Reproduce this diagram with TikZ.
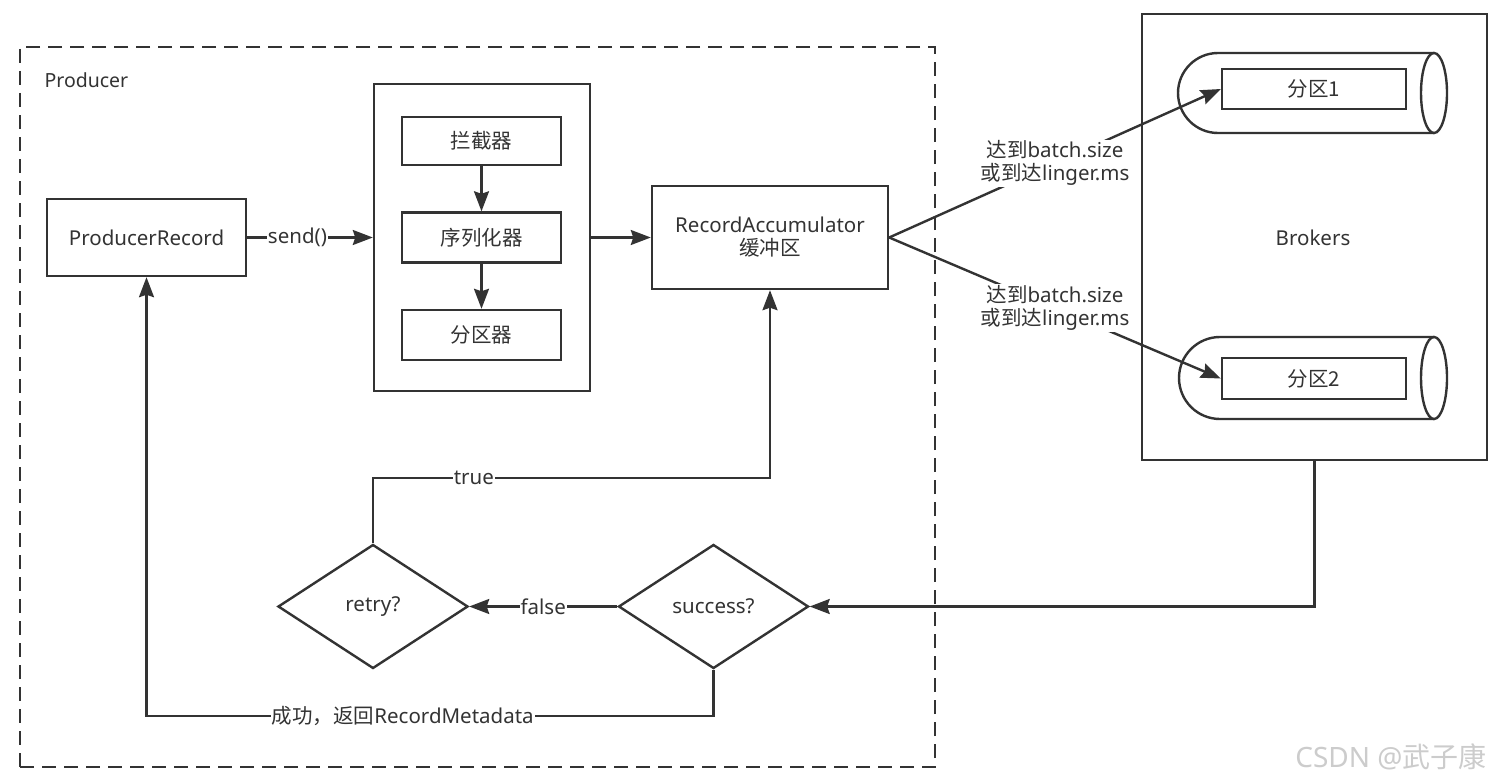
\documentclass[tikz,border=0pt]{standalone}
\usepackage{fontspec}
\setmainfont{Noto Sans}
\newfontfamily\cjk{Noto Sans CJK SC}
\usetikzlibrary{arrows.meta,shapes.geometric}
\definecolor{ln}{HTML}{333333}
\definecolor{txt}{HTML}{333333}
\begin{document}
\begin{tikzpicture}[x=1pt,y=-1pt,line width=2.4pt,
 every node/.style={text=txt,font=\fontsize{20.5}{27}\selectfont},
 box/.style={draw=ln,rectangle,inner sep=0pt},
 dec/.style={draw=ln,diamond,aspect=1.53,minimum width=190pt,minimum height=124pt,inner sep=0pt},
 arr/.style={draw=ln,-{Stealth[length=20pt,width=15pt,inset=2.5pt]}},
 lbl/.style={fill=white,inner sep=1pt},
 ln/.style={draw=ln}]
\useasboundingbox (0,0) rectangle (1500,784);
\fill[white] (0,0) rectangle (1500,784);

% Producer frame
\node[box,minimum width=915pt,minimum height=720pt,dash pattern=on 14pt off 8pt] (prod) at (477.5,407) {};
\node[anchor=west,font=\fontsize{19.5}{24}\selectfont] (prodlbl) at (40,80) {Producer};

\node[box,minimum width=199pt,minimum height=77pt] (rec) at (146.5,237.5) {ProducerRecord};
\node[box,minimum width=216pt,minimum height=307pt] (chain) at (482,237.5) {};
\node[box,minimum width=159pt,minimum height=48pt] (inter) at (481.5,141) {\cjk 拦截器};
\node[box,minimum width=159pt,minimum height=50pt] (ser) at (481.5,237.5) {\cjk 序列化器};
\node[box,minimum width=159pt,minimum height=50pt] (part) at (481.5,335) {\cjk 分区器};
\node[box,minimum width=236pt,minimum height=103pt,align=center] (acc) at (770,237.5) {RecordAccumulator\\[-4pt]{\cjk 缓冲区}};

% Brokers
\node[box,minimum width=345pt,minimum height=446pt] (brk) at (1314.5,237) {};
\node (brklbl) at (1313,238) {Brokers};
\draw[ln] (1434,53) -- (1218,53) arc[start angle=270,end angle=90,radius=40] -- (1434,133);
\draw[ln] (1434,93) ellipse[x radius=13,y radius=40];
\node[box,minimum width=184pt,minimum height=40pt] (p1) at (1314,89) {\cjk 分区1};
\draw[ln] (1434,337) -- (1220,337) arc[start angle=270,end angle=90,radius=41] -- (1434,419);
\draw[ln] (1434,378) ellipse[x radius=13,y radius=41];
\node[box,minimum width=184pt,minimum height=41pt] (p2) at (1314,378.5) {\cjk 分区2};

% decisions
\node[dec] (retry) at (373,606.5) {retry?};
\node[dec] (succ) at (713.5,606.5) {success?};

% connectors
\draw[arr] (rec.east) -- node[lbl,pos=0.4]{send()} (chain.west);
\draw[arr] (inter) -- (ser);
\draw[arr] (ser) -- (part);
\draw[arr] (chain.east) -- (acc.west);
\draw[arr] (acc.east) -- node[lbl,align=center]{{\cjk 达到}batch.size\\[-4pt]{\cjk 或到达}linger.ms} (p1.west);
\draw[arr] (acc.east) -- node[lbl,align=center]{{\cjk 达到}batch.size\\[-4pt]{\cjk 或到达}linger.ms} (p2.west);
\draw[arr] (brk.south) |- (succ.east);
\draw[arr] (succ.west) -- node[lbl]{false} (retry.east);
\coordinate (tl) at (373,478);
\draw[arr] (retry.north) -- (tl) -- node[lbl,pos=0.254]{true} (tl -| acc.south) -- (acc.south);
\coordinate (bl) at (713.5,716);
\draw[arr] (succ.south) -- (bl) -- node[lbl,pos=0.548]{{\cjk 成功，返回}RecordMetadata} (bl -| rec.south) -- (rec.south);

\node[text=gray!40,font=\fontsize{28}{32}\selectfont] (wm) at (1391,757) {CSDN @{\cjk 武子康}};
\end{tikzpicture}
\end{document}
